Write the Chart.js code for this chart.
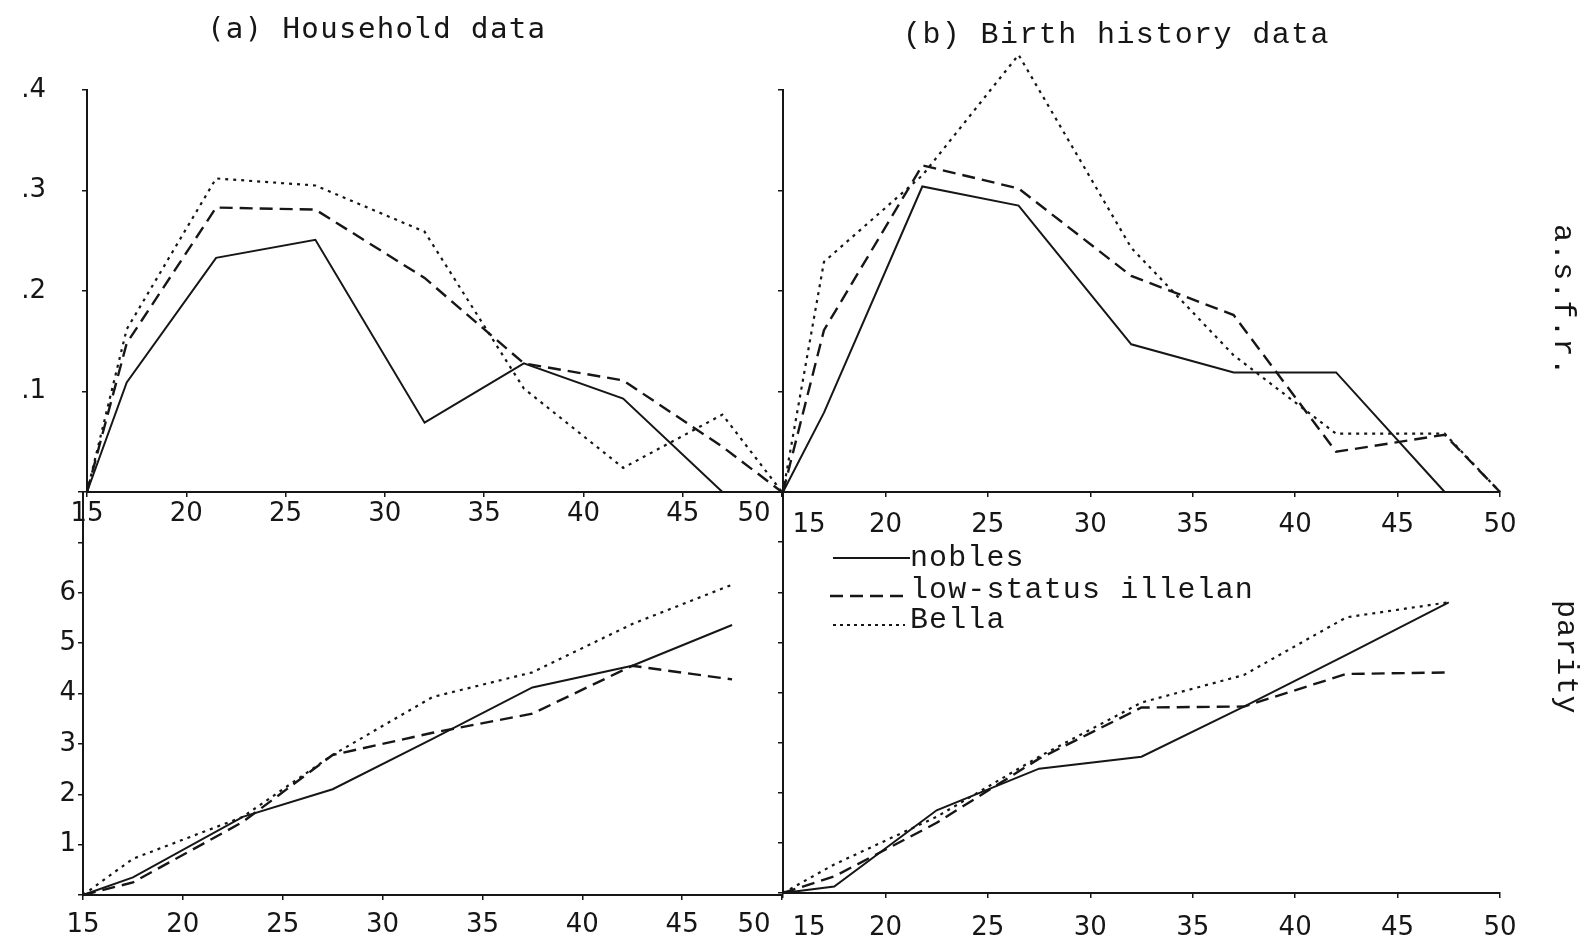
<!DOCTYPE html>
<html>
<head>
<meta charset="utf-8">
<title>asfr and parity</title>
<script src="https://cdn.jsdelivr.net/npm/chart.js@4.4.1/dist/chart.umd.min.js"></script>
<style>
  html, body { margin: 0; padding: 0; background: #fff; }
  #page { position: relative; width: 1586px; height: 943px; overflow: hidden; background: #fff; }
  #page canvas { position: absolute; left: 0; top: 0; }
  .txt { position: absolute; color: #161616; white-space: nowrap; line-height: 32px; }
  .mono { font-family: "Liberation Mono", "DejaVu Sans Mono", monospace; font-size: 30px; letter-spacing: 1.1px; }
  .side { writing-mode: vertical-rl; line-height: 32px; }
  #titleA { left: 207px; top: 12px; font-family: "DejaVu Sans Mono", monospace; font-size: 29px; letter-spacing: 1.4px; }
  #titleB { left: 903px; top: 19px; letter-spacing: 1.4px; }
  #legendLines { position: absolute; left: 0; top: 0; }
</style>
</head>
<body>
<div id="page">
  <canvas id="topA" width="1586" height="943"></canvas>
  <canvas id="topB" width="1586" height="943"></canvas>
  <canvas id="botA" width="1586" height="943"></canvas>
  <canvas id="botB" width="1586" height="943"></canvas>

  <div id="titleA" class="txt">(a) Household data</div>
  <div id="titleB" class="txt mono">(b) Birth history data</div>

  <svg id="legendLines" width="1586" height="943">
    <line x1="833" y1="558" x2="910" y2="558" stroke="#161616" stroke-width="2"/>
    <line x1="830" y1="596" x2="910" y2="596" stroke="#161616" stroke-width="2.4" stroke-dasharray="13 7"/>
    <line x1="833" y1="625" x2="905" y2="625" stroke="#161616" stroke-width="2" stroke-dasharray="3 4"/>
  </svg>
  <div class="txt mono" style="left:910px; top:542px;">nobles</div>
  <div class="txt mono" style="left:910px; top:574px;">low-status illelan</div>
  <div class="txt mono" style="left:910px; top:604px;">Bella</div>

  <div class="txt mono side" style="left:1547px; top:224px;">a.s.f.r.</div>
  <div class="txt mono side" style="left:1550px; top:600px;">parity</div>
</div>

<script>
// idades (eixo x) de cada painel
const ageTopA = [15, 17, 21.5, 26.5, 32, 37, 42, 47, 50];
const ageTopB = [15, 17, 21.8, 26.5, 32, 37, 42, 47.3, 50];
const ageBotA = [15, 17.5, 23, 27.5, 32.5, 37.5, 42.5, 47.5];
const ageBotB = [15, 17.5, 22.5, 27.5, 32.5, 37.5, 42.5, 47.5];

// (a) household data - asfr
const hhAsfrNobles = [0, 0.109, 0.233, 0.251, 0.069, 0.128, 0.093, 0, null];
const hhAsfrLow    = [0, 0.148, 0.283, 0.281, 0.213, 0.128, 0.111, 0.045, 0];
const hhAsfrBella  = [0, 0.162, 0.312, 0.305, 0.259, 0.103, 0.024, 0.077, 0];

// (b) birth history data - asfr
const bhAsfrNobles = [0, 0.079, 0.304, 0.285, 0.147, 0.119, 0.119, 0, null];
const bhAsfrLow    = [0, 0.161, 0.325, 0.302, 0.215, 0.176, 0.040, 0.057, 0];
const bhAsfrBella  = [0, 0.229, 0.315, 0.435, 0.243, 0.136, 0.058, 0.058, 0];

// (a) household data - parity
const hhParNobles = [0, 0.35, 1.55, 2.1, 3.1, 4.12, 4.55, 5.36];
const hhParLow    = [0, 0.25, 1.45, 2.78, 3.22, 3.6, 4.55, 4.28];
const hhParBella  = [0, 0.72, 1.55, 2.78, 3.93, 4.42, 5.38, 6.16];

// (b) birth history data - parity
const bhParNobles = [0, 0.13, 1.65, 2.48, 2.72, 3.72, 4.75, 5.8];
const bhParLow    = [0, 0.33, 1.4, 2.68, 3.7, 3.72, 4.37, 4.4];
const bhParBella  = [0, 0.57, 1.52, 2.72, 3.8, 4.35, 5.5, 5.8];

const ink = '#161616';
const tickFont = { family: 'DejaVu Sans', size: 26 };

function series(ages, values) {
  return ages.map((a, i) => ({ x: a, y: values[i] })).filter(p => p.y !== null);
}

// rótulo da ponta (50 ou 15) deslocado para não colidir com o painel vizinho
const edgeLabel = {
  id: 'edgeLabel',
  afterDraw(chart, args, opts) {
    if (opts.value === undefined) return;
    const sx = chart.scales.x;
    const ctx = chart.ctx;
    ctx.save();
    ctx.font = tickFont.size + 'px "' + tickFont.family + '"';
    ctx.fillStyle = ink;
    ctx.textAlign = 'center';
    ctx.textBaseline = 'middle';
    ctx.fillText(String(opts.value), sx.getPixelForValue(opts.value) + opts.dx, sx.top + 5 + opts.pad + tickFont.size * 0.6);
    ctx.restore();
  }
};

function panel(id, ages, nob, low, bel, o) {
  new Chart(document.getElementById(id), {
    type: 'line',
    data: {
      datasets: [
        { label: 'nobles', data: series(ages, nob), borderColor: ink, borderWidth: 2, pointRadius: 0, tension: 0, clip: false },
        { label: 'low-status illelan', data: series(ages, low), borderColor: ink, borderWidth: 2.4, borderDash: [13, 7], pointRadius: 0, tension: 0, clip: false },
        { label: 'Bella', data: series(ages, bel), borderColor: ink, borderWidth: 2.2, borderDash: [3, 5], pointRadius: 0, tension: 0, clip: false }
      ]
    },
    plugins: [edgeLabel],
    options: {
      responsive: false,
      animation: false,
      events: [],
      layout: { padding: o.pad },
      plugins: {
        legend: { display: false },
        tooltip: { enabled: false },
        edgeLabel: { value: o.edge, dx: o.edgeDx, pad: o.xpad }
      },
      scales: {
        x: {
          type: 'linear', min: 15, max: 50,
          afterFit: s => { s.height = o.xh; },
          ticks: {
            stepSize: 5, autoSkip: false, maxRotation: 0, color: ink, font: tickFont, padding: o.xpad,
            callback: v => (v === o.edge ? '' : String(v))
          },
          grid: { drawOnChartArea: false, drawTicks: true, tickLength: 5, color: ink, lineWidth: 1.5 },
          border: { display: true, color: ink, width: 2 }
        },
        y: {
          type: 'linear', min: 0, max: o.ymax,
          afterFit: s => { s.width = o.yw; },
          ticks: { stepSize: o.ystep, autoSkip: false, color: ink, font: tickFont, padding: o.ypad, callback: o.ylabel },
          grid: { drawOnChartArea: false, drawTicks: true, tickLength: 5, color: ink, lineWidth: 1.5 },
          border: { display: true, color: ink, width: 2 }
        }
      }
    }
  });
}

const asfrLabel = v => { const n = Math.round(v * 10); return n === 0 ? '' : '.' + n; };
const noLabel = () => '';
const parityLabel = v => { const n = Math.round(v); return (n >= 1 && n <= 6) ? String(n) : ''; };

// áreas: topA 87-782 x 90-492, topB 783-1500 x 90-492,
// botA 83-782 x 492-895, botB 783-1500 x 492-893
panel('topA', ageTopA, hhAsfrNobles, hhAsfrLow, hhAsfrBella,
  { pad: { left: 7, right: 804, top: 90, bottom: 401 }, yw: 80, xh: 50, xpad: 2, ypad: 36,
    ymax: 0.4, ystep: 0.1, ylabel: asfrLabel, edge: 50, edgeDx: -28 });
panel('topB', ageTopB, bhAsfrNobles, bhAsfrLow, bhAsfrBella,
  { pad: { left: 743, right: 86, top: 90, bottom: 401 }, yw: 40, xh: 50, xpad: 13, ypad: 4,
    ymax: 0.4, ystep: 0.1, ylabel: noLabel, edge: 15, edgeDx: 26 });
panel('botA', ageBotA, hhParNobles, hhParLow, hhParBella,
  { pad: { left: 7, right: 804, top: 492, bottom: 3 }, yw: 76, xh: 45, xpad: 10, ypad: 2,
    ymax: 8, ystep: 1, ylabel: parityLabel, edge: 50, edgeDx: -28 });
panel('botB', ageBotB, bhParNobles, bhParLow, bhParBella,
  { pad: { left: 743, right: 86, top: 492, bottom: 5 }, yw: 40, xh: 45, xpad: 15, ypad: 4,
    ymax: 8, ystep: 1, ylabel: noLabel, edge: 15, edgeDx: 26 });
</script>
</body>
</html>
